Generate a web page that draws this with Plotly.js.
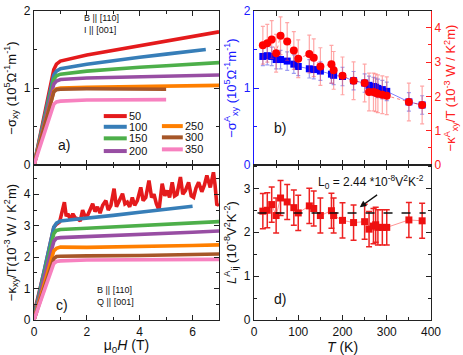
<!DOCTYPE html>
<html>
<head>
<meta charset="utf-8">
<script src="https://cdn.plot.ly/plotly-3.0.1.min.js"></script>
<style>
  body { margin: 0; background: #fff; }
  #chart { width: 463px; height: 355px; }
</style>
</head>
<body>
<div id="chart"></div>
<script>
// temperatures and colours of the field sweeps
const temps = [50, 100, 150, 200, 250, 300, 350];
const colors = ['#e41a1c', '#377eb8', '#4daf4a', '#984ea3', '#ff7f00', '#a65628', '#f781bf'];

// panel a: -sigma_xy vs field
const hA = [0, 0.75, 0.85, 1, 2, 3, 4, 5, 6, 7];
const hA100 = [0, 0.75, 0.85, 1, 2, 3, 4, 5, 6, 6.5];
const hA5 = [0, 0.75, 0.85, 1, 2, 3, 4, 5];
const sig50 = [0, 1.24, 1.31, 1.35, 1.43, 1.49, 1.55, 1.61, 1.67, 1.73];
const sig100 = [0, 1.17, 1.22, 1.25, 1.31, 1.36, 1.40, 1.44, 1.48, 1.50];
const sig150 = [0, 1.11, 1.16, 1.18, 1.22, 1.25, 1.27, 1.29, 1.31, 1.33];
const sig200 = [0, 1.05, 1.09, 1.11, 1.13, 1.14, 1.15, 1.16, 1.165, 1.17];
const sig250 = [0, 0.96, 0.99, 1.0, 1.01, 1.015, 1.02, 1.025, 1.03, 1.035];
const sig300 = [0, 0.95, 0.98, 0.985, 0.99, 0.99, 0.99, 0.985];
const sig350 = [0, 0.79, 0.82, 0.83, 0.845, 0.85, 0.85, 0.85];

// panel c: -kappa_xy/T vs field
const hC = [0, 0.4, 0.75, 0.85, 1, 2, 3, 4, 5, 6, 7];
const hC100 = [0, 0.4, 0.75, 0.85, 1, 1.5, 2, 3, 4, 5, 6];
const hC50 = [0, 0.4, 0.75, 0.85, 0.97, 1.08, 1.15, 1.22, 1.28, 1.38, 1.47, 1.56, 1.66, 1.75, 1.84,
  1.93, 2.03, 2.12, 2.22, 2.31, 2.4, 2.5, 2.6, 2.72, 2.81, 2.91, 3.03, 3.12, 3.22, 3.35, 3.44,
  3.53, 3.62, 3.72, 3.81, 3.91, 4.04, 4.13, 4.23, 4.35, 4.45, 4.54, 4.63, 4.73, 4.85, 4.95,
  5.04, 5.13, 5.23, 5.32, 5.41, 5.54, 5.63, 5.73, 5.85, 5.95, 6.04, 6.13, 6.23, 6.35, 6.45,
  6.54, 6.67, 6.79, 6.85, 6.92, 7.0];
const kap50 = [0.2, 1.6, 2.95, 3.05, 3.12, 3.5, 3.75, 3.3, 3.38, 3.2, 3.38, 3.25, 3.22, 3.15, 3.5,
  3.3, 3.33, 3.5, 3.7, 3.45, 3.6, 3.4, 3.65, 3.8, 3.5, 3.65, 4.18, 3.6, 3.8, 4.02, 3.7,
  3.75, 3.6, 3.9, 3.65, 3.8, 4.22, 3.8, 3.9, 4.44, 3.9, 4.0, 3.7, 3.5, 4.34, 3.95,
  4.12, 3.9, 4.38, 3.95, 4.0, 4.55, 4.0, 4.12, 4.38, 3.95, 3.9, 4.2, 4.38, 4.08, 4.3,
  4.6, 4.22, 4.7, 4.3, 3.65, 3.7];
const kap100 = [0.1, 1.6, 2.95, 3.08, 3.15, 3.2, 3.24, 3.33, 3.43, 3.52, 3.62];
const kap150 = [0.05, 1.5, 2.75, 2.85, 2.88, 2.92, 2.96, 3.0, 3.04, 3.08, 3.13];
const kap200 = [0, 1.4, 2.5, 2.6, 2.62, 2.65, 2.68, 2.71, 2.74, 2.79, 2.83];
const kap250 = [0, 1.2, 2.2, 2.28, 2.32, 2.31, 2.32, 2.33, 2.35, 2.37, 2.39];
const kap300 = [0, 1.05, 1.95, 2.02, 2.03, 2.04, 2.04, 2.05, 2.07, 2.08, 2.1];
const kap350 = [0, 0.95, 1.8, 1.86, 1.88, 1.91, 1.91, 1.91, 1.92, 1.92, 1.93];

// panels b and d: temperature dependence
const tempK = [20, 30, 40, 50, 60, 75, 90, 100, 125, 135, 150, 175, 180, 200, 225, 250, 260, 270, 275, 280, 290, 300, 350, 380];
const sigA = [1.41, 1.42, 1.41, 1.37, 1.37, 1.35, 1.31, 1.28, 1.25, 1.24, 1.22, 1.18, 1.165, 1.15, 1.095, 1.065, 1.035, 1.02, 1.01, 0.995, 0.98, 0.957, 0.82, 0.78];
const kapA = [3.49, 3.55, 3.66, 3.26, 3.77, 3.6, 3.34, 3.1, 3.24, 3.13, 2.87, 2.94, 2.76, 2.6, 2.46, 2.39, 2.13, 2.13, 2.11, 2.08, 2.05, 2.02, 1.84, 1.75];
const lorA = [2.48, 2.5, 2.63, 2.38, 2.78, 2.69, 2.56, 2.44, 2.6, 2.54, 2.38, 2.49, 2.38, 2.27, 2.22, 2.24, 2.07, 2.14, 2.17, 2.11, 2.11, 2.11, 2.28, 2.26];
const sigErr = 0.12, kapErr = 0.55, lorErr = 0.4;
const L0 = 2.44;

const font = 'Liberation Sans, Arial, sans-serif';
const frame = '#222';

const sigCurves = [[hA, sig50], [hA100, sig100], [hA, sig150], [hA, sig200], [hA, sig250], [hA5, sig300], [hA5, sig350]];
const kapCurves = [[hC50, kap50], [hC100, kap100], [hC, kap150], [hC, kap200], [hC, kap250], [hC, kap300], [hC, kap350]];

const traces = [];
sigCurves.forEach((c, i) => {
  traces.push({ x: c[0], y: c[1], xaxis: 'x', yaxis: 'y', type: 'scatter', mode: 'lines',
    line: { color: colors[i], width: 3.6 }, name: String(temps[i]), showlegend: false });
});
kapCurves.forEach((c, i) => {
  traces.push({ x: c[0], y: c[1], xaxis: 'x3', yaxis: 'y4', type: 'scatter', mode: 'lines',
    line: { color: colors[i], width: 3.6 }, showlegend: false });
});

traces.push({
  x: tempK, y: kapA, xaxis: 'x2', yaxis: 'y3', type: 'scatter', mode: 'lines+markers',
  marker: { symbol: 'circle', size: 8, color: '#ff0000' },
  line: { color: 'rgba(255,0,0,0.5)', width: 1, dash: 'dot' },
  error_y: { type: 'constant', value: kapErr, color: 'rgba(255,60,60,0.45)', thickness: 1.2, width: 2 },
  showlegend: false
});
traces.push({
  x: tempK, y: sigA, xaxis: 'x2', yaxis: 'y2', type: 'scatter', mode: 'lines+markers',
  marker: { symbol: 'square', size: 7, color: '#0000ff' },
  line: { color: 'rgba(0,0,255,0.5)', width: 1 },
  error_y: { type: 'constant', value: sigErr, color: 'rgba(60,60,230,0.5)', thickness: 1.2, width: 2 },
  showlegend: false
});
traces.push({
  x: tempK, y: lorA, xaxis: 'x4', yaxis: 'y5', type: 'scatter', mode: 'lines+markers',
  marker: { symbol: 'square', size: 7, color: '#ee1111' },
  line: { color: 'rgba(255,60,60,0.55)', width: 1 },
  error_y: { type: 'constant', value: lorErr, color: '#ee2222', thickness: 1.5, width: 3 },
  showlegend: false
});

function xax(dom, anchor, range, dtick, minor, labels, title) {
  const ax = {
    domain: dom, anchor: anchor, range: range, dtick: dtick, tick0: 0,
    ticks: 'inside', ticklen: 5, tickcolor: frame, showline: true, linecolor: frame, linewidth: 1.2,
    mirror: 'allticks', showgrid: false, zeroline: false, showticklabels: labels,
    minor: { ticks: 'inside', ticklen: 3, dtick: minor, tickcolor: frame },
    tickfont: { family: font, size: 12, color: '#111' }
  };
  if (title) ax.title = { text: title, font: { family: font, size: 14, color: '#111' }, standoff: 2 };
  return ax;
}
function yax(dom, anchor, range, dtick, minor, title, color, mirror) {
  const txt = color === frame ? '#111' : color;
  return {
    domain: dom, anchor: anchor, range: range, dtick: dtick, tick0: 0,
    ticks: 'inside', ticklen: 5, tickcolor: color, showline: true, linecolor: color, linewidth: 1.2,
    mirror: mirror, showgrid: false, zeroline: false,
    minor: { ticks: 'inside', ticklen: 3, dtick: minor, tickcolor: color },
    tickfont: { family: font, size: 12, color: txt },
    title: { text: title, font: { family: font, size: 13, color: txt }, standoff: 4 }
  };
}

const colLeft = [0.0734, 0.473], colRight = [0.5486, 0.9309];
const rowTop = [0.535, 0.969], rowBottom = [0.0986, 0.535];

const layout = {
  width: 463, height: 355,
  margin: { l: 0, r: 0, t: 0, b: 0 },
  paper_bgcolor: '#fff', plot_bgcolor: 'rgba(0,0,0,0)',
  showlegend: false,
  font: { family: font },
  xaxis: xax(colLeft, 'y', [0, 7], 2, 1, false),
  yaxis: yax(rowTop, 'x', [0, 2], 1, 0.5, '−σ<sub>xy</sub> (10<sup>5</sup>Ω<sup>-1</sup>m<sup>-1</sup>)', frame, 'allticks'),
  xaxis2: xax(colRight, 'y2', [0, 400], 100, 50, false),
  yaxis2: yax(rowTop, 'x2', [0, 2], 1, 0.5, '−σ<sup>A</sup><sub>xy</sub> (10<sup>5</sup>Ω<sup>-1</sup>m<sup>-1</sup>)', '#1a1aff', false),
  yaxis3: Object.assign(yax(rowTop, 'x2', [0, 4.49], 1, 0.5, '−κ<sup>A</sup><sub>xy</sub>/T (10<sup>-3</sup> W / K<sup>2</sup>m)', '#ff2020', false),
    { overlaying: 'y2', side: 'right' }),
  xaxis3: xax(colLeft, 'y4', [0, 7], 2, 1, true, 'μ<sub>0</sub><i>H</i> (T)'),
  yaxis4: yax(rowBottom, 'x3', [0, 4.93], 1, 0.5, '−κ<sub>xy</sub>/T(10<sup>-3</sup> W / K<sup>2</sup>m)', frame, 'allticks'),
  xaxis4: xax(colRight, 'y5', [0, 400], 100, 50, true, '<i>T</i> (K)'),
  yaxis5: yax(rowBottom, 'x4', [0, 3.53], 1, 0.5, '<i>L</i><sup>A</sup><sub>ij</sub> (10<sup>-8</sup>V<sup>2</sup>K<sup>-2</sup>)', frame, 'allticks'),
  shapes: [
    { type: 'line', xref: 'x4 domain', x0: 0.02, x1: 0.97, yref: 'y5', y0: L0, y1: L0,
      line: { color: '#111', width: 1.5, dash: 'dash' } }
  ],
  annotations: []
};

// legend of panel a, drawn as short lines with labels in two columns
const legCols = [[2.64, 3.51], [4.84, 5.63]];
const legRows = [0.636, 0.497, 0.347, 0.182, 0.506, 0.36, 0.204];
temps.forEach((t, i) => {
  const col = i < 4 ? legCols[0] : legCols[1];
  layout.shapes.push({ type: 'line', xref: 'x', yref: 'y', x0: col[0], x1: col[1], y0: legRows[i], y1: legRows[i],
    line: { color: colors[i], width: 4 } });
  layout.annotations.push({ xref: 'x', yref: 'y', x: col[1] + 0.02, y: legRows[i], text: String(t),
    showarrow: false, xanchor: 'left', font: { family: font, size: 11, color: '#111' } });
});

const note = (xref, yref, x, y, text, size, anchor) => ({
  xref: xref, yref: yref, x: x, y: y, text: text, showarrow: false, xanchor: anchor || 'left',
  align: 'left', font: { family: font, size: size, color: '#111' }
});
layout.annotations.push(
  note('x', 'y', 1.8, 1.83, 'B || [110]<br>I || [001]', 9),
  note('x', 'y', 0.85, 0.26, 'a)', 14),
  note('x3', 'y4', 2.3, 0.75, 'B || [110]<br>Q || [001]', 9),
  note('x3', 'y4', 0.75, 0.47, 'c)', 14),
  note('x2', 'y2', 40, 0.48, 'b)', 14),
  note('x4', 'y5', 40, 0.48, 'd)', 14),
  note('x4', 'y5', 265, 3.15, 'L<sub>0</sub> = 2.44 *10<sup>-8</sup>V<sup>2</sup>K<sup>-2</sup>', 12, 'center'),
  { xref: 'x4', yref: 'y5', x: 239, y: 2.57, axref: 'x4', ayref: 'y5', ax: 285, ay: 2.9,
    text: ' ', showarrow: true, arrowhead: 2, arrowsize: 1, arrowwidth: 1.3, arrowcolor: '#111' }
);

Plotly.newPlot('chart', traces, layout, { staticPlot: true });
</script>
</body>
</html>
